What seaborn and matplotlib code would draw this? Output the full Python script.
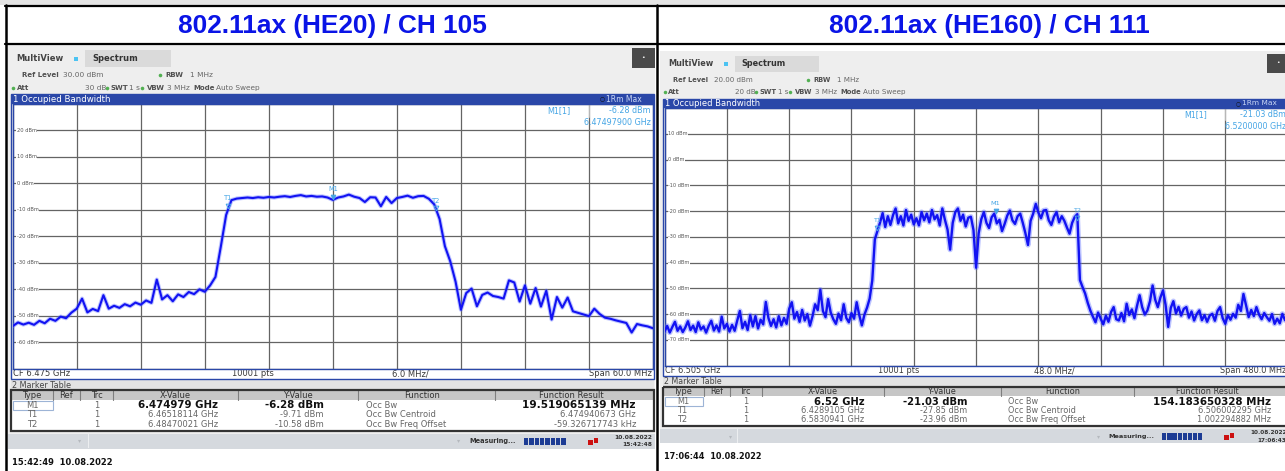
import numpy as np
import pandas as pd
import matplotlib
matplotlib.use("Agg")
import matplotlib.pyplot as plt
import seaborn as sns
from matplotlib.patches import Rectangle
from matplotlib.transforms import ScaledTranslation

# ------------------------------------------------------------------ data
TITLES = ["802.11ax (HE20) / CH 105", "802.11ax (HE160) / CH 111"]
REF_LEVEL_DBM = [30, 20]
ATT_DB = ["30 dB", "20 dB"]
CF_TEXT = ["CF 6.475 GHz", "CF 6.505 GHz"]
SPAN_MHZ = [60.0, 480.0]
DIV_TEXT = ["6.0 MHz/", "48.0 MHz/"]
SPAN_TEXT = ["Span 60.0 MHz", "Span 480.0 MHz"]

# trace levels (dBm), equally spaced over the span
LEFT_LEVEL = [
    -54.0, -52.6, -53.4, -52.7, -53.5, -52.0, -52.9, -51.2, -52.0, -50.4,
    -51.0, -48.9, -47.4, -43.6, -48.8, -47.5, -48.3, -42.3, -47.4, -46.3,
    -47.1, -45.7, -46.5, -45.1, -45.9, -44.3, -45.2, -36.4, -43.9, -42.3,
    -44.6, -42.0, -43.0, -41.1, -41.9, -40.1, -41.0, -38.6, -35.4, -24.0,
    -12.0, -6.4, -5.8, -5.6, -5.4, -5.6, -5.3, -5.5, -5.2, -5.4,
    -5.1, -4.9, -5.2, -4.8, -4.5, -5.0, -4.8, -5.1, -5.0, -5.4,
    -6.3, -5.4, -5.0, -4.3, -5.1, -5.6, -7.1, -5.3, -5.4, -8.7,
    -5.2, -7.5, -5.6, -5.2, -4.7, -5.5, -4.9, -4.8, -5.9, -8.0,
    -13.5, -23.8, -29.5, -37.2, -47.8, -41.5, -39.8, -46.5, -42.2, -41.3,
    -42.6, -43.0, -43.6, -36.7, -37.5, -44.7, -38.6, -45.5, -39.6, -46.6,
    -40.6, -51.5, -43.0, -47.0, -43.2, -48.4, -49.0, -49.6, -50.2, -47.4,
    -49.4, -50.8, -51.2, -51.8, -52.3, -52.8, -56.4, -53.2, -53.7, -54.1,
    -54.8]

RIGHT_LEVEL = [
    -66.8, -64.6, -67.2, -65.0, -63.0, -66.5, -64.8, -67.0, -65.2, -62.8,
    -66.2, -64.5, -67.0, -63.2, -66.0, -64.8, -67.2, -64.6, -62.6, -66.4,
    -64.4, -66.8, -61.0, -65.6, -63.8, -66.8, -64.2, -66.5, -62.5, -58.8,
    -65.5, -63.0, -66.2, -60.4, -64.8, -60.8, -65.6, -62.2, -64.0, -55.3,
    -61.5, -64.6, -62.0, -65.2, -60.8, -64.4, -61.5, -63.8, -58.0, -55.4,
    -61.8, -59.2, -63.0, -58.4, -62.5, -60.0, -64.5, -60.8, -56.2, -58.5,
    -50.5, -58.8, -61.2, -54.2, -59.4, -62.0, -63.8, -59.8, -62.4, -56.2,
    -61.5, -63.2, -59.6, -61.8, -55.4, -60.4, -64.4, -60.2, -57.5, -54.0,
    -47.0, -31.0, -27.8, -24.5, -20.8, -26.2, -22.0, -25.4, -21.6, -19.0,
    -24.8, -22.0, -25.6, -19.6, -23.8, -21.4, -25.2, -22.8, -25.6, -20.4,
    -23.6, -21.0, -24.4, -19.6, -23.2, -21.6, -25.6, -19.0, -23.4, -27.2,
    -35.0, -24.6, -20.4, -19.0, -23.8, -21.4, -26.0, -22.6, -22.2, -27.4,
    -42.0, -28.6, -23.2, -20.4, -24.6, -26.6, -22.4, -21.0, -24.8, -23.4,
    -27.8, -25.0, -21.8, -19.8, -23.6, -25.0, -22.0, -21.0, -24.6, -28.6,
    -33.2, -23.8, -21.0, -17.2, -20.6, -22.8, -19.8, -19.6, -23.6, -25.4,
    -22.2, -20.4, -24.4, -22.0, -23.8, -26.4, -28.8, -24.6, -22.3, -21.2,
    -46.8, -49.5, -52.0, -55.6, -58.6, -61.0, -63.2, -59.4, -61.8, -64.0,
    -60.6, -63.0, -59.2, -57.3, -62.0, -62.5, -59.6, -62.8, -56.0, -60.4,
    -58.2, -61.6, -56.8, -52.7, -57.4, -60.2, -58.6, -55.0, -48.9, -54.4,
    -57.3, -53.6, -50.8, -56.4, -65.0, -57.6, -55.0, -59.8, -57.2, -60.6,
    -58.0, -57.3, -61.4, -59.0, -62.5, -60.0, -58.6, -62.4, -60.4, -63.0,
    -60.6, -59.9, -62.6, -58.8, -57.3, -61.6, -63.8, -60.4, -62.2, -59.9,
    -61.4, -56.4, -58.8, -52.2, -56.6, -61.2, -58.4, -60.8, -57.3, -60.2,
    -62.0, -59.6, -61.2, -62.6, -60.0, -63.8, -61.8, -63.6, -59.9, -62.4,
    -61.0]

# markers: name, offset from CF (MHz), level (dBm)
LEFT_MARKERS = [("T1", -9.82, -9.71), ("M1", 0.0, -6.28), ("T2", 9.70, -10.58)]
RIGHT_MARKERS = [("T1", -76.09, -27.85), ("M1", 15.0, -21.03), ("T2", 78.09, -23.96)]

READOUT = [("-6.28 dBm", "6.47497900 GHz"), ("-21.03 dBm", "6.5200000 GHz")]

TABLE_TYPE = ["M1", "T1", "T2"]
LEFT_X = ["6.474979 GHz", "6.46518114 GHz", "6.48470021 GHz"]
LEFT_Y = ["-6.28 dBm", "-9.71 dBm", "-10.58 dBm"]
RIGHT_X = ["6.52 GHz", "6.4289105 GHz", "6.5830941 GHz"]
RIGHT_Y = ["-21.03 dBm", "-27.85 dBm", "-23.96 dBm"]
FUNCTIONS = ["Occ Bw", "Occ Bw Centroid", "Occ Bw Freq Offset"]
LEFT_RESULT = ["19.519065139 MHz", "6.474940673 GHz", "-59.326717743 kHz"]
RIGHT_RESULT = ["154.183650328 MHz", "6.506002295 GHz", "1.002294882 MHz"]
STATUS_TIME = ["15:42:48", "17:06:43"]
STAMP = ["15:42:49  10.08.2022", "17:06:44  10.08.2022"]

# ------------------------------------------------------------------ style
W, H = 1285, 471
sns.set_theme(style="white")
plt.rcParams["font.family"] = ["DejaVu Sans"]

BLUE_BAR = "#2a47a8"
TRACE = "#1212f2"
HALO = "#5a6cff"
MARK = "#45a5e5"
GRID = "#646464"
UI_BG = "#eeeeee"
DARK = "#3a3a3a"
GREY = "#666666"

fig = plt.figure(figsize=(W / 100, H / 100), dpi=100)
ui = fig.add_axes([0, 0, 1, 1])
ui.set_xlim(0, W)
ui.set_ylim(H, 0)
ui.axis("off")
top = fig.add_axes([0, 0, 1, 1], zorder=5)
top.set_xlim(0, W)
top.set_ylim(H, 0)
top.axis("off")
top.patch.set_alpha(0)

# frame of the document table
ui.add_patch(Rectangle((0, 0), W, 5, fc="#e4e4e4", ec="none"))
ui.plot([5, W], [6, 6], color="black", lw=1.6)
ui.plot([5, W], [44, 44], color="black", lw=1.6)
ui.plot([6, 6], [5, H], color="black", lw=1.8)
ui.plot([657, 657], [5, H], color="black", lw=1.8)
for t, cx in zip(TITLES, [332, 989]):
    ui.text(cx, 26.5, t, ha="center", va="center", fontsize=18.9, fontweight="bold",
            color="#0a14e6", family=["Liberation Sans", "DejaVu Sans"])


def panel(i, ox, oy, s, level, markers, xvals, yvals, results):
    def P(x, y):
        return ox + s * (x - 8), oy + s * (y - 45)

    def R(x0, y0, x1, y1, fc, ec="none", lw=0.0, z=1, axx=ui):
        X0, Y0 = P(x0, y0)
        X1, Y1 = P(x1, y1)
        axx.add_patch(Rectangle((X0, Y0), X1 - X0, Y1 - Y0, fc=fc, ec=ec, lw=lw, zorder=z))

    def T(x, y, txt, size, axx=ui, **kw):
        X, Y = P(x, y)
        kw.setdefault("va", "center")
        kw.setdefault("color", DARK)
        axx.text(X, Y, txt, fontsize=size * s, **kw)

    def dot(x, y):
        X, Y = P(x, y)
        ui.plot([X], [Y], "o", ms=2.6 * s, color="#52b052", mec="none")

    # screenshot background
    R(8, 45, 655, 433.5, UI_BG)
    # tabs
    T(16, 58.5, "MultiView", 6.0, fontweight="bold", color="#444444")
    R(73.5, 56.5, 77.5, 60.5, "#4cc3f2")
    R(85, 50, 171, 67, "#dadada")
    T(92, 58.5, "Spectrum", 6.0, fontweight="bold", color="#333333")
    R(632, 48, 655, 68, "#4a4a4a")
    T(643.5, 57.5, "\u2022", 4.5, ha="center", color="white")
    # setting rows
    KB = dict(fontweight="bold", color="#505050")
    T(21.5, 74.7, "Ref Level", 5.0, **KB)
    T(63, 74.7, f"{REF_LEVEL_DBM[i]:.2f} dBm", 5.3, color=GREY)
    dot(160, 74.7)
    T(165.5, 74.7, "RBW", 5.0, **KB)
    T(190, 74.7, "1 MHz", 5.3, color=GREY)
    dot(12.7, 87.7)
    T(16.7, 87.7, "Att", 5.0, **KB)
    T(85, 87.7, ATT_DB[i], 5.3, color=GREY)
    dot(106.5, 87.7)
    T(110.5, 87.7, "SWT", 5.0, **KB)
    T(129, 87.7, "1 s", 5.3, color=GREY)
    dot(141.7, 87.7)
    T(146.5, 87.7, "VBW", 5.0, **KB)
    T(166.8, 87.7, "3 MHz", 5.3, color=GREY)
    T(193, 87.7, "Mode", 5.0, **KB)
    T(216.5, 87.7, "Auto Sweep", 5.3, color=GREY)
    # title bar of the diagram
    R(11, 94.3, 654, 103.8, BLUE_BAR)
    T(13, 99, "1 Occupied Bandwidth", 6.2, color="white")
    T(602, 99, "\u25cb", 4.2, color="#101010", ha="center")
    T(606, 99, "1Rm Max", 5.5, color="#c9d6f5")
    # CF row + outer blue frame
    R(11, 368.5, 654, 379.3, "white")
    R(11, 94.3, 654, 379.3, "none", ec=BLUE_BAR, lw=1.0, z=2)
    T(13, 373.8, CF_TEXT[i], 6.0)
    T(232.5, 373.8, "10001 pts", 6.0)
    T(392.5, 373.8, DIV_TEXT[i], 6.0)
    T(652, 373.8, SPAN_TEXT[i], 6.0, ha="right")
    # marker table
    R(11, 379.5, 654, 390.3, "#e3e3e3")
    T(12.5, 385, "2 Marker Table", 5.8, color="#444444")
    R(11, 390.3, 654, 430.7, "white")
    R(11, 390.3, 654, 400.0, "#c6c6c6")
    for xs in [53, 80, 113, 238, 358, 495]:
        X, Y0 = P(xs, 390.3)
        _, Y1 = P(xs, 400)
        ui.plot([X, X], [Y0, Y1], color="#7e7e7e", lw=0.8)
    R(11, 390.3, 654, 430.7, "none", ec="#333333", lw=1.6, z=2)
    for name, cx in [("Type", 32), ("Ref", 66.5), ("Trc", 96.5), ("X-Value", 175.5),
                     ("Y-Value", 298), ("Function", 422), ("Function Result", 571)]:
        T(cx, 395.3, name, 6.0, ha="center", color="#333333")
    R(13, 400.8, 52.5, 410, "white", ec="#9db4d6", lw=0.8, z=2)
    for r, yy in enumerate([405.5, 414.8, 424.1]):
        T(32, yy, TABLE_TYPE[r], 6.0, ha="center", color=GREY)
        T(96.5, yy, "1", 6.0, ha="center", color=GREY)
        if r == 0:
            BK = dict(ha="right", fontweight="bold", color="#111111")
            T(218, yy, xvals[r], 7.4, **BK)
            T(324, yy, yvals[r], 7.4, **BK)
            T(636, yy, results[r], 7.6, **BK)
        else:
            T(218, yy, xvals[r], 6.0, ha="right", color=GREY)
            T(324, yy, yvals[r], 6.0, ha="right", color=GREY)
            T(636, yy, results[r], 6.0, ha="right", color=GREY)
        T(366, yy, FUNCTIONS[r], 6.0, color=GREY)
    # status bar
    R(8, 433.5, 655, 448.5, "#d5d9de")
    R(87.5, 434, 88.5, 448, "#eceef0")
    T(80, 441, "\u25be", 4.5, ha="center", color="#b5b9be")
    T(459, 441, "\u25be", 4.5, ha="center", color="#b5b9be")
    T(469, 441, "Measuring...", 4.8, fontweight="bold", color="#333333")
    for k in range(8):
        R(524 + k * 5.3, 437.5, 528.4 + k * 5.3, 444.5, "#1d3c94")
    R(588, 439.5, 592.5, 444.5, "#cc1111")
    R(593.5, 438, 598, 443, "#cc1111")
    T(652, 437.6, "10.08.2022", 4.3, ha="right", fontweight="bold", color="#333333")
    T(652, 445.0, STATUS_TIME[i], 4.3, ha="right", fontweight="bold", color="#333333")
    T(12, 462.3, STAMP[i], 6.0, fontweight="bold", color="#111111")

    # -------------------------------------------------- spectrum trace
    X0, Y0 = P(12.7, 103.8)
    X1, Y1 = P(653, 368.5)
    ax = fig.add_axes([X0 / W, 1 - Y1 / H, (X1 - X0) / W, (Y1 - Y0) / H], zorder=2)
    span = SPAN_MHZ[i]
    ref = REF_LEVEL_DBM[i]
    freq = np.linspace(-span / 2, span / 2, len(level))
    df = pd.DataFrame({"MHz": freq, "dBm": level})
    halo_lw, main_lw = (3.0, 1.5) if i == 0 else (3.8, 1.7)
    sns.lineplot(data=df, x="MHz", y="dBm", ax=ax, color=HALO, lw=halo_lw, alpha=0.4,
                 estimator=None, sort=False, zorder=4)
    sns.lineplot(data=df, x="MHz", y="dBm", ax=ax, color=TRACE, lw=main_lw,
                 estimator=None, sort=False, zorder=5)
    ax.set_xlim(-span / 2, span / 2)
    ax.set_ylim(ref - 100, ref)
    ax.set_xticks(np.linspace(-span / 2, span / 2, 11))
    ax.set_yticks(np.arange(ref - 100, ref + 1, 10))
    ax.grid(True, color=GRID, lw=0.9)
    ax.set_axisbelow(True)
    ax.tick_params(length=0, labelbottom=False, labelleft=False)
    ax.set_xlabel("")
    ax.set_ylabel("")
    ax.set_facecolor("white")
    for sp in ax.spines.values():
        sp.set_color(BLUE_BAR)
        sp.set_linewidth(1.0)
    for v in range(ref - 10, ref - 99, -10):
        ax.text(0.006, v, f"{v} dBm", transform=ax.get_yaxis_transform(), fontsize=3.7 * s,
                color="#555555", va="center", ha="left", zorder=3,
                bbox=dict(boxstyle="square,pad=0.12", fc="white", ec="none"))
    lift = ScaledTranslation(0, 2.2 / 72, fig.dpi_scale_trans)
    for name, fx, lv in markers:
        filled = name.startswith("M")
        ax.plot([fx], [lv], marker="v", ms=3.4, color=MARK, mfc=MARK if filled else "none",
                mec=MARK, mew=0.7, transform=ax.transData + lift, zorder=6)
        ax.annotate(name, (fx, lv), xytext=(0, 7.5), textcoords="offset points", ha="center",
                    va="center", fontsize=4.8 * s, color=MARK, zorder=6)
    # marker readout
    T(547, 110.5, "M1[1]", 5.8, axx=top, color=MARK)
    Xs, Ys0 = P(589, 104.5)
    _, Ys1 = P(589, 116.5)
    top.plot([Xs, Xs], [Ys0, Ys1], color="#c8c8c8", lw=0.6)
    T(651, 110.5, READOUT[i][0], 5.8, axx=top, ha="right", color=MARK)
    T(651, 122.8, READOUT[i][1], 5.8, axx=top, ha="right", color=MARK)


panel(0, 8, 45, 1.0, LEFT_LEVEL, LEFT_MARKERS, LEFT_X, LEFT_Y, LEFT_RESULT)
panel(1, 660, 50.8, 0.973, RIGHT_LEVEL, RIGHT_MARKERS, RIGHT_X, RIGHT_Y, RIGHT_RESULT)

fig.savefig("out.png", dpi=100)
